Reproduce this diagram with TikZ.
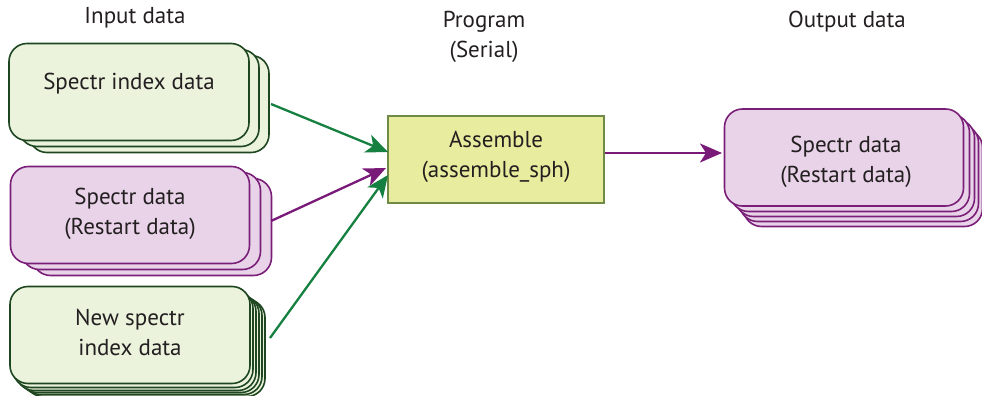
\documentclass[tikz,border=0pt]{standalone}
\usepackage{fontspec}
\setmainfont{PT Sans}
\usetikzlibrary{arrows.meta}
\definecolor{gfill}{HTML}{EBF3DD}
\definecolor{gdraw}{HTML}{1E4620}
\definecolor{pfill}{HTML}{E8D3E8}
\definecolor{pdraw}{HTML}{7A1F78}
\definecolor{yfill}{HTML}{E8EC9E}
\definecolor{ydraw}{HTML}{6E8A44}
\definecolor{garrow}{HTML}{15803F}
\definecolor{parrow}{HTML}{7A1A78}
\definecolor{tcol}{HTML}{231F20}
\tikzset{
  x=1pt,y=-1pt,
  txt/.style={font=\fontsize{23}{30}\selectfont, text=tcol, align=center},
  gbox/.style={draw=gdraw, fill=gfill, line width=1.6pt, rounded corners=18pt, minimum width=240pt, minimum height=97pt, inner sep=0pt},
  pbox/.style={draw=pdraw, fill=pfill, line width=1.6pt, rounded corners=18pt, minimum width=239pt, minimum height=97pt, inner sep=0pt},
  prog/.style={draw=ydraw, fill=yfill, line width=1.3pt, minimum width=216pt, minimum height=87pt, inner sep=0pt},
  garr/.style={draw=garrow, line width=2.3pt, -{Stealth[length=22pt,width=19pt,inset=6pt]}},
  parr/.style={draw=parrow, line width=2.3pt, -{Stealth[length=22pt,width=19pt,inset=6pt]}},
}
\begin{document}
\begin{tikzpicture}
\useasboundingbox (0,0) rectangle (982,396);
% headers
\node[txt] (hin) at (135,18) {Input data};
\node[txt] (hprog) at (484,37) {Program\\(Serial)};
\node[txt] (hout) at (847,22) {Output data};
% input box 1
\node[gbox] (a2) at (149,104) {};
\node[gbox] (a1) at (139,98) {};
\node[gbox] (a) at (129,92) {};
\node[txt] (at) at (129,84) {Spectr index data};
% input box 2
\node[pbox] (b2) at (152,227) {};
\node[pbox] (b1) at (141,221) {};
\node[pbox] (b) at (130,215) {};
\node[txt] (bt) at (130,214) {Spectr data\\(Restart data)};
% input box 3
\node[gbox] (c5) at (145,348) {};
\node[gbox] (c4) at (142,346) {};
\node[gbox] (c3) at (139,344) {};
\node[gbox] (c2) at (136,342) {};
\node[gbox] (c1) at (133,339) {};
\node[gbox] (c) at (130,335) {};
\node[txt] (ct) at (130,332) {New spectr\\index data};
% program
\node[prog] (p) at (496,159.5) {};
\node[txt] (pt) at (496,157) {Assemble\\(assemble\_sph)};
% output
\node[pbox] (o4) at (863,178) {};
\node[pbox] (o3) at (859,173) {};
\node[pbox] (o2) at (855,168) {};
\node[pbox] (o1) at (850,163) {};
\node[pbox] (o) at (844,157.5) {};
\node[txt] (ot) at (846,162) {Spectr data\\(Restart data)};
% connectors
\coordinate (s1) at (271,104);
\coordinate (e1) at (388,152);
\coordinate (s2) at (271,221);
\coordinate (e2) at (386,168);
\coordinate (s3) at (270,338);
\coordinate (e3) at (388,175);
\draw[garr] (s1) -- (e1);
\draw[parr] (s2) -- (e2);
\draw[garr] (s3) -- (e3);
\draw[parr] (p.east |- 0,153) -- (722,153);
\end{tikzpicture}
\end{document}
